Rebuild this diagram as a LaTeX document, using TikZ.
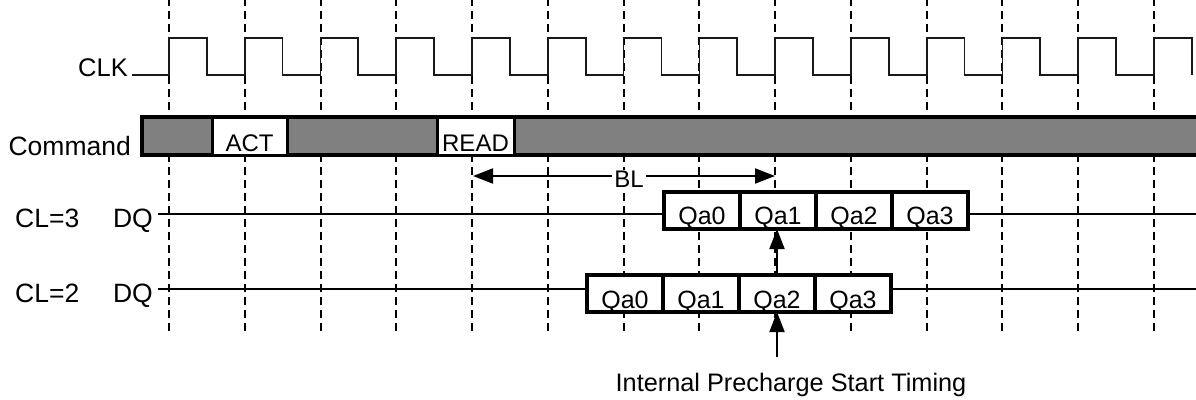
\documentclass[tikz,border=0pt]{standalone}
\usepackage{fontspec}
\setmainfont{Liberation Sans}
\usetikzlibrary{arrows.meta}
\begin{document}
\begin{tikzpicture}[x=1pt,y=-1pt,
  lbl/.style={font=\fontsize{24}{28}\selectfont, inner sep=0pt},
  biglbl/.style={font=\fontsize{26.5}{30}\selectfont, inner sep=0pt},
  qlbl/.style={font=\fontsize{25}{29}\selectfont, inner sep=0pt},
  gridline/.style={line width=2pt, dash pattern=on 8pt off 5pt},
  clkline/.style={line width=1.7pt, black!90},
  sig/.style={line width=2pt},
  cmdbar/.style={draw, line width=3.2pt, fill=gray},
  cmdcell/.style={draw, line width=3pt, fill=white},
  cell/.style={draw, line width=3.5pt, fill=white, minimum width=76pt, minimum height=37pt, inner sep=0pt, outer sep=0pt},
  tip/.style={-{Triangle[length=20pt,width=15pt]}},
  bitip/.style={{Triangle[length=20pt,width=15pt]}-{Triangle[length=20pt,width=15pt]}}
]
\useasboundingbox (0,0) rectangle (1196,399);
\clip (0,0) rectangle (1196,399);
% grid
\foreach \k in {0,...,13}
  \draw[gridline] ({169+75.77*\k},-2) -- ({169+75.77*\k},332);
% clock
\draw[clkline] (132,75)
  \foreach \k in {0,...,13} { -- ({169+75.77*\k},75) -- ({169+75.77*\k},38) -- ({206.8+75.77*\k},38) -- ({206.8+75.77*\k},75) };
\node[font=\fontsize{25.5}{30}\selectfont, inner sep=0pt, anchor=base east] (clk) at (128,76) {CLK};
% command bar
\draw[cmdbar] (142,117) rectangle (1210,155);
\draw[cmdcell] (212,117) rectangle (287,155);
\draw[cmdcell] (437,117) rectangle (514,155);
\node[lbl, anchor=base] (act) at (249.5,151) {ACT};
\node[lbl, anchor=base] (read) at (475.5,151) {READ};
\node[biglbl, anchor=base east] (cmd) at (131,155) {Command};
% DQ labels
\node[biglbl, anchor=base west] (cl3) at (15,227.7) {CL=3};
\node[biglbl, anchor=base east] (dq3) at (153,227.7) {DQ};
\node[biglbl, anchor=base west] (cl2) at (15,302.7) {CL=2};
\node[biglbl, anchor=base east] (dq2) at (153,302.7) {DQ};
% CL=3 cells
\foreach \i in {0,1,2,3} {
  \node[cell] (q3\i) at ({664+38+76*\i},210.5) {};
  \node[qlbl, anchor=base] at ({664+38+76*\i},224.5) {Qa\i};
}
% CL=2 cells
\foreach \i in {0,1,2,3} {
  \node[cell] (q2\i) at ({587+38+76*\i},293.5) {};
  \node[qlbl, anchor=base] at ({587+38+76*\i},308.5) {Qa\i};
}
% DQ lines
\coordinate (dq3s) at (158,214);
\coordinate (dq3e) at (1210,214);
\coordinate (dq2s) at (158,289);
\coordinate (dq2e) at (1210,289);
\draw[sig] (dq3s) -- (q30.west |- dq3s);
\draw[sig] (q33.east |- dq3e) -- (dq3e);
\draw[sig] (dq2s) -- (q20.west |- dq2s);
\draw[sig] (q23.east |- dq2e) -- (dq2e);
% BL arrow
\coordinate (bll) at (473,176);
\coordinate (blr) at (775,176);
\draw[sig, bitip] (bll) -- (blr);
\node[lbl, fill=white, inner xsep=2pt, inner ysep=1pt] (bl) at (629,179.5) {BL};
% vertical arrows
\draw[sig, tip] (q22.north) -- (q22.north |- q31.south);
\coordinate (ips) at (q22.south |- 0,357);
\draw[sig, tip] (ips) -- (q22.south);
\node[font=\fontsize{25.3}{30}\selectfont, inner sep=0pt, anchor=base] (ipt) at (791,391.7) {Internal Precharge Start Timing};
\end{tikzpicture}
\end{document}
